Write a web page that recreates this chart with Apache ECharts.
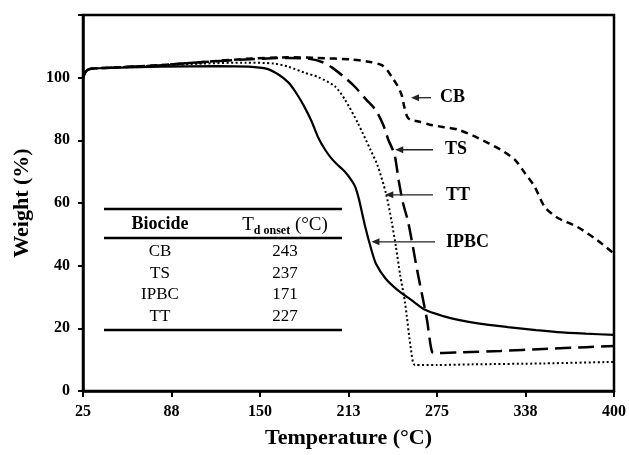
<!DOCTYPE html>
<html><head><meta charset="utf-8">
<script src="https://cdn.jsdelivr.net/npm/echarts@6/dist/echarts.min.js"></script>
<style>html,body{margin:0;padding:0;background:#fff}#c{width:629px;height:455px}</style>
</head><body><div id="c"></div>
<script>
const FONT = '"Liberation Serif", "Times New Roman", Times, serif';

// axis ticks
const xTicks = [25, 87.5, 150, 212.5, 275, 337.5, 400];
const yTicks = [0, 20, 40, 60, 80, 100];

// CB (short dash)
const cbT = [25,27,30,50,80,110,140,170,190,215,228,236,240,243,247,250,252,254,256,262,270,280,290,303.8,320,330,337,344,351,360,374,388,400];
const cbW = [100,102,102.8,103.3,104,105,106,106.5,106.3,105.8,105,104,102.3,100.3,97.5,94.5,90.5,87.5,86.6,86,85,84.2,83.4,80.8,77,73.8,69.6,65.2,58.8,55.3,52.4,48.2,43.8];

// TS (long dash)
const tsT = [25,27,30,50,80,110,140,170,185,195,201,210,217,225,231.5,237,240.6,245,248,251,254.6,258,261,265,268,271.5,275,290,320,350,380,400];
const tsW = [100,102,102.8,103.3,104,105,105.8,106.3,106,104.8,103.2,100,97.1,93,89.8,85,80.2,75.5,67,60,54,46,38.5,29.5,22.5,12.5,12.1,12.3,12.8,13.4,14,14.4];

// TT (dotted)
const ttT = [25,27,30,50,80,110,140,160,170,182,191,203,210,219,228,233,239,243,246,249,252.5,256.7,259.5,275,300,350,400];
const ttW = [100,102,102.8,103.3,103.9,104.5,104.8,104.5,103.5,101.5,100.2,97.2,93,85.6,77,72,63,54,46,37,28,13,8.3,8.3,8.5,8.8,9.3];

// IPBC (solid)
const ipT = [25,27,30,50,80,120,142,155,163,170,175,181,186.5,191,196,200,204,210,215,217.4,220,224,228.7,232,238.5,247,257,266.6,280,290,305,325,345,360,380,400];
const ipW = [100,102,102.8,103.2,103.5,103.7,103.5,102.8,101,98.5,95.5,91,86,81,77,74.5,72.5,70,67,65,61,53,45,40.5,36,32.3,29,25.9,23.8,22.7,21.5,20.4,19.4,18.8,18.3,17.9];

// inset table
const tableHead = ['Biocide', 'T_d onset (°C)'];
const tableBiocide = ['CB', 'TS', 'IPBC', 'TT'];
const tableOnset = ['243', '237', '171', '227'];

// annotations (arrow from tail to tip, label to the right)
const annNames = ['CB', 'TS', 'TT', 'IPBC'];
const annTipT = [256.7, 245.5, 238.5, 228.7];
const annTailT = [270.8, 272.2, 272.2, 273.6];
const annLabelT = [277.1, 280.6, 281.3, 281.3];
const annW = [93.6, 77, 62.6, 47.6];

const zip = (a, b) => a.map((v, i) => [v, b[i]]);

const chart = echarts.init(document.getElementById('c'), null, {renderer: 'canvas'});

function mkSeries(name, T, W, width, type) {
  return {
    name, type: 'line', data: zip(T, W), showSymbol: false, smooth: 0.25,
    lineStyle: {color: '#000', width: width, type: type, cap: 'butt'},
    animation: false, silent: true, z: 3
  };
}

const option = {
  animation: false,
  backgroundColor: '#fff',
  grid: {left: 83, right: 12, top: 15, bottom: 64, show: true, borderColor: '#000', borderWidth: 2.5, backgroundColor: 'transparent'},
  xAxis: {
    type: 'value', min: 25, max: 400,
    name: 'Temperature (°C)', nameLocation: 'middle', nameGap: 36,
    nameTextStyle: {fontFamily: FONT, fontWeight: 'bold', fontSize: 22, color: '#000'},
    axisLine: {lineStyle: {color: '#000', width: 2.5}},
    axisTick: {show: true, length: 6, customValues: xTicks, lineStyle: {color: '#000', width: 2}},
    axisLabel: {customValues: xTicks, margin: 13, fontFamily: FONT, fontWeight: 'bold', fontSize: 16, color: '#000',
      formatter: v => String(Math.round(v))},
    splitLine: {show: false}
  },
  yAxis: {
    type: 'value', min: 0, max: 120, interval: 20,
    name: 'Weight (%)', nameLocation: 'middle', nameGap: 50, nameRotate: 90,
    nameTextStyle: {fontFamily: FONT, fontWeight: 'bold', fontSize: 22, color: '#000'},
    axisLine: {lineStyle: {color: '#000', width: 2.5}},
    axisTick: {show: true, length: 5, lineStyle: {color: '#000', width: 2}},
    axisLabel: {customValues: yTicks, margin: 13, fontFamily: FONT, fontWeight: 'bold', fontSize: 16, color: '#000',
      formatter: v => (v > 100 ? '' : String(v))},
    splitLine: {show: false}
  },
  series: [
    mkSeries('CB', cbT, cbW, 2.5, [7, 5]),
    mkSeries('TS', tsT, tsW, 2.5, [16, 7]),
    mkSeries('TT', ttT, ttW, 2, [2, 2.5]),
    mkSeries('IPBC', ipT, ipW, 2.2, 'solid')
  ]
};
chart.setOption(option);

// build graphics: table + annotations
const g = [];
const tblX1 = 104, tblX2 = 342, col1 = 160, col2 = 285;
[209, 238, 330].forEach(y => g.push({type: 'line', shape: {x1: tblX1, y1: y, x2: tblX2, y2: y}, style: {stroke: '#000', lineWidth: 2.6}, z: 10}));
g.push({type: 'text', x: col1, y: 224, style: {text: tableHead[0], font: 'bold 18px ' + FONT, fill: '#000', align: 'center', verticalAlign: 'middle'}, z: 10});
g.push({type: 'text', x: col2, y: 224, style: {
  text: '{b|T}{s|d onset}{b| (°C)}', align: 'center', verticalAlign: 'middle',
  rich: {
    b: {fontFamily: FONT, fontSize: 19, fill: '#000', verticalAlign: 'bottom', lineHeight: 22},
    s: {fontFamily: FONT, fontSize: 12, fontWeight: 'bold', fill: '#000', verticalAlign: 'bottom', lineHeight: 16, padding: [0, 0, -2, 0]}
  }}, z: 10});
const rowY = [252, 273.5, 295, 316.5];
tableBiocide.forEach((s, i) => {
  g.push({type: 'text', x: col1, y: rowY[i], style: {text: s, font: '17px ' + FONT, fill: '#000', align: 'center', verticalAlign: 'middle'}, z: 10});
  g.push({type: 'text', x: col2, y: rowY[i], style: {text: tableOnset[i], font: '17px ' + FONT, fill: '#000', align: 'center', verticalAlign: 'middle'}, z: 10});
});

annNames.forEach((n, i) => {
  const tip = chart.convertToPixel({gridIndex: 0}, [annTipT[i], annW[i]]);
  const tail = chart.convertToPixel({gridIndex: 0}, [annTailT[i], annW[i]]);
  const lab = chart.convertToPixel({gridIndex: 0}, [annLabelT[i], annW[i]]);
  g.push({type: 'line', shape: {x1: tail[0], y1: tail[1], x2: tip[0] + 4, y2: tip[1]}, style: {stroke: '#222', lineWidth: 1.3}, z: 10});
  g.push({type: 'polygon', shape: {points: [[tip[0], tip[1]], [tip[0] + 8, tip[1] - 3.5], [tip[0] + 8, tip[1] + 3.5]]}, style: {fill: '#222'}, z: 10});
  g.push({type: 'text', x: lab[0], y: lab[1], style: {text: n, font: 'bold 18px ' + FONT, fill: '#000', align: 'left', verticalAlign: 'middle'}, z: 10});
});

chart.setOption({graphic: g});
</script>
</body></html>
